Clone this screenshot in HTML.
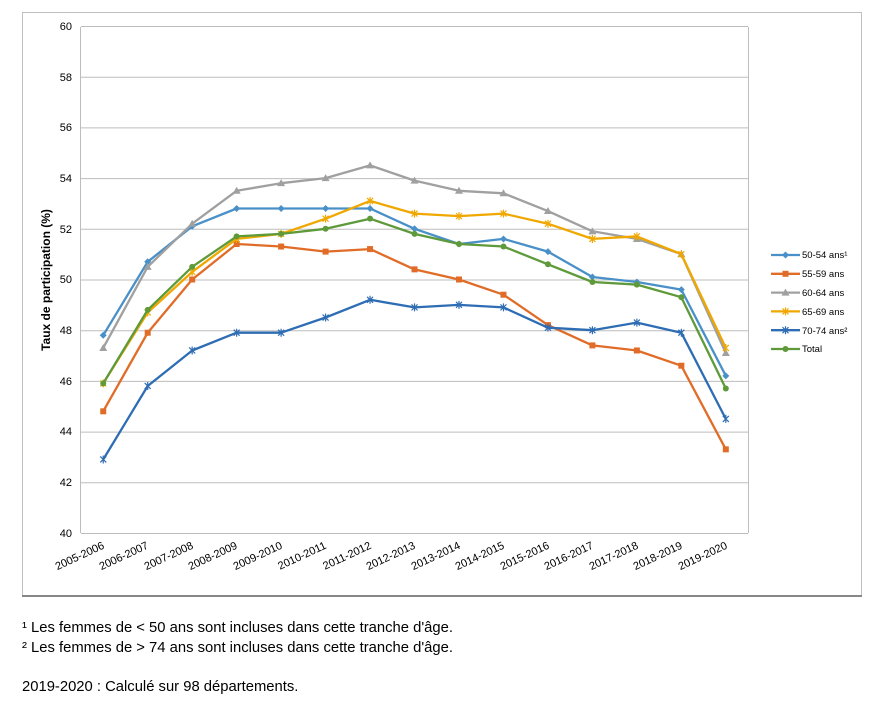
<!DOCTYPE html>
<html><head><meta charset="utf-8"><style>
body{margin:0;background:#fff;width:877px;height:701px;overflow:hidden;font-family:"Liberation Sans",Arial,sans-serif;}
svg{position:absolute;left:0;top:0}
.fn{position:absolute;left:22px;font-size:14.8px;color:#000}
</style></head><body>
<svg id="s" width="877" height="701" xmlns="http://www.w3.org/2000/svg" font-family="Liberation Sans, Arial, sans-serif">
<rect x="22.5" y="12.5" width="839" height="583" fill="none" stroke="#bfbfbf"/>
<line x1="22" y1="596" x2="862" y2="596" stroke="#888" stroke-width="2"/>
<g id="grid" stroke="#bdbdbd" stroke-width="1"></g>
<g font-size="11" fill="#000" text-anchor="end">
<text x="72" y="30">60</text><text x="72" y="81">58</text><text x="72" y="131">56</text><text x="72" y="182">54</text><text x="72" y="233">52</text><text x="72" y="283">50</text><text x="72" y="334">48</text><text x="72" y="385">46</text><text x="72" y="435">44</text><text x="72" y="486">42</text><text x="72" y="537">40</text>
</g>
<text transform="translate(50,280) rotate(-90)" font-size="12" font-weight="bold" text-anchor="middle">Taux de participation (%)</text>
<g font-size="11" text-anchor="end">
<text transform="translate(105,548) rotate(-25)">2005-2006</text>
<text transform="translate(149,548) rotate(-25)">2006-2007</text>
<text transform="translate(194,548) rotate(-25)">2007-2008</text>
<text transform="translate(238,548) rotate(-25)">2008-2009</text>
<text transform="translate(283,548) rotate(-25)">2009-2010</text>
<text transform="translate(327,548) rotate(-25)">2010-2011</text>
<text transform="translate(372,548) rotate(-25)">2011-2012</text>
<text transform="translate(416,548) rotate(-25)">2012-2013</text>
<text transform="translate(461,548) rotate(-25)">2013-2014</text>
<text transform="translate(505,548) rotate(-25)">2014-2015</text>
<text transform="translate(550,548) rotate(-25)">2015-2016</text>
<text transform="translate(594,548) rotate(-25)">2016-2017</text>
<text transform="translate(639,548) rotate(-25)">2017-2018</text>
<text transform="translate(683,548) rotate(-25)">2018-2019</text>
<text transform="translate(728,548) rotate(-25)">2019-2020</text>
</g>
<g id="ser"></g>
<g font-size="9.5" fill="#000">
<text x="802" y="258">50-54 ans¹</text>
<text x="802" y="277">55-59 ans</text>
<text x="802" y="296">60-64 ans</text>
<text x="802" y="315">65-69 ans</text>
<text x="802" y="334">70-74 ans²</text>
<text x="802" y="352">Total</text>
</g>
<g id="leg"></g>
</svg>
<div class="fn" style="top:620px">¹ Les femmes de &lt; 50 ans sont incluses dans cette tranche d'âge.</div>
<div class="fn" style="top:640px">² Les femmes de &gt; 74 ans sont incluses dans cette tranche d'âge.</div>
<div class="fn" style="top:679px">2019-2020 : Calculé sur 98 départements.</div>
<script>
function Y(v){return 533-(v-40)*25.35;}
function X(i){return 81+44.47*(i+0.5);}
var g=document.getElementById('grid'),h="";
for(var v=42;v<=60;v+=2){h+='<line x1="81" x2="748" y1="'+(Y(v)+.5)+'" y2="'+(Y(v)+.5)+'"/>';}
h+='<line x1="81" x2="748" y1="533.5" y2="533.5"/><line x1="80.5" x2="80.5" y1="27" y2="533"/><line x1="748.5" x2="748.5" y1="27" y2="533"/>';
g.innerHTML=h;
var S=[
["#4A90C8","d",[47.8,50.7,52.1,52.8,52.8,52.8,52.8,52.0,51.4,51.6,51.1,50.1,49.9,49.6,46.2]],
["#E06C28","s",[44.8,47.9,50.0,51.4,51.3,51.1,51.2,50.4,50.0,49.4,48.2,47.4,47.2,46.6,43.3]],
["#A0A0A0","t",[47.3,50.5,52.2,53.5,53.8,54.0,54.5,53.9,53.5,53.4,52.7,51.9,51.6,51.0,47.1]],
["#F0A800","x",[45.9,48.7,50.3,51.6,51.8,52.4,53.1,52.6,52.5,52.6,52.2,51.6,51.7,51.0,47.3]],
["#2E6DB4","x",[42.9,45.8,47.2,47.9,47.9,48.5,49.2,48.9,49.0,48.9,48.1,48.0,48.3,47.9,44.5]],
["#5E9A3A","c",[45.9,48.8,50.5,51.7,51.8,52.0,52.4,51.8,51.4,51.3,50.6,49.9,49.8,49.3,45.7]]];
function mk(c,t,x,y){
 if(t=="s")return '<rect x="'+(x-3)+'" y="'+(y-3)+'" width="6" height="6" fill="'+c+'"/>';
 if(t=="c")return '<circle cx="'+x+'" cy="'+y+'" r="3" fill="'+c+'"/>';
 if(t=="t")return '<path d="M'+x+' '+(y-4)+'L'+(x+4)+' '+(y+3)+'L'+(x-4)+' '+(y+3)+'Z" fill="'+c+'"/>';
 if(t=="d")return '<path d="M'+x+' '+(y-3.5)+'L'+(x+3.5)+' '+y+'L'+x+' '+(y+3.5)+'L'+(x-3.5)+' '+y+'Z" fill="'+c+'"/>';
 return '<path d="M'+(x-3)+' '+(y-3)+'L'+(x+3)+' '+(y+3)+'M'+(x+3)+' '+(y-3)+'L'+(x-3)+' '+(y+3)+'M'+x+' '+(y-4)+'V'+(y+4)+'" stroke="'+c+'" stroke-width="1.2"/>';
}
var o="",l="";
S.forEach(function(s,k){
 var p=s[2].map(function(v,i){return X(i).toFixed(1)+','+Y(v).toFixed(1)}).join(' ');
 o+='<polyline points="'+p+'" fill="none" stroke="'+s[0]+'" stroke-width="2.3" stroke-linejoin="round"/>';
 s[2].forEach(function(v,i){o+=mk(s[0],s[1],X(i),Y(v));});
 var ly=255+k*18.8;
 l+='<line x1="771" x2="800" y1="'+ly+'" y2="'+ly+'" stroke="'+s[0]+'" stroke-width="2.3"/>'+mk(s[0],s[1],785.5,ly);
});
document.getElementById('ser').innerHTML=o;
document.getElementById('leg').innerHTML=l;
</script>
</body></html>
